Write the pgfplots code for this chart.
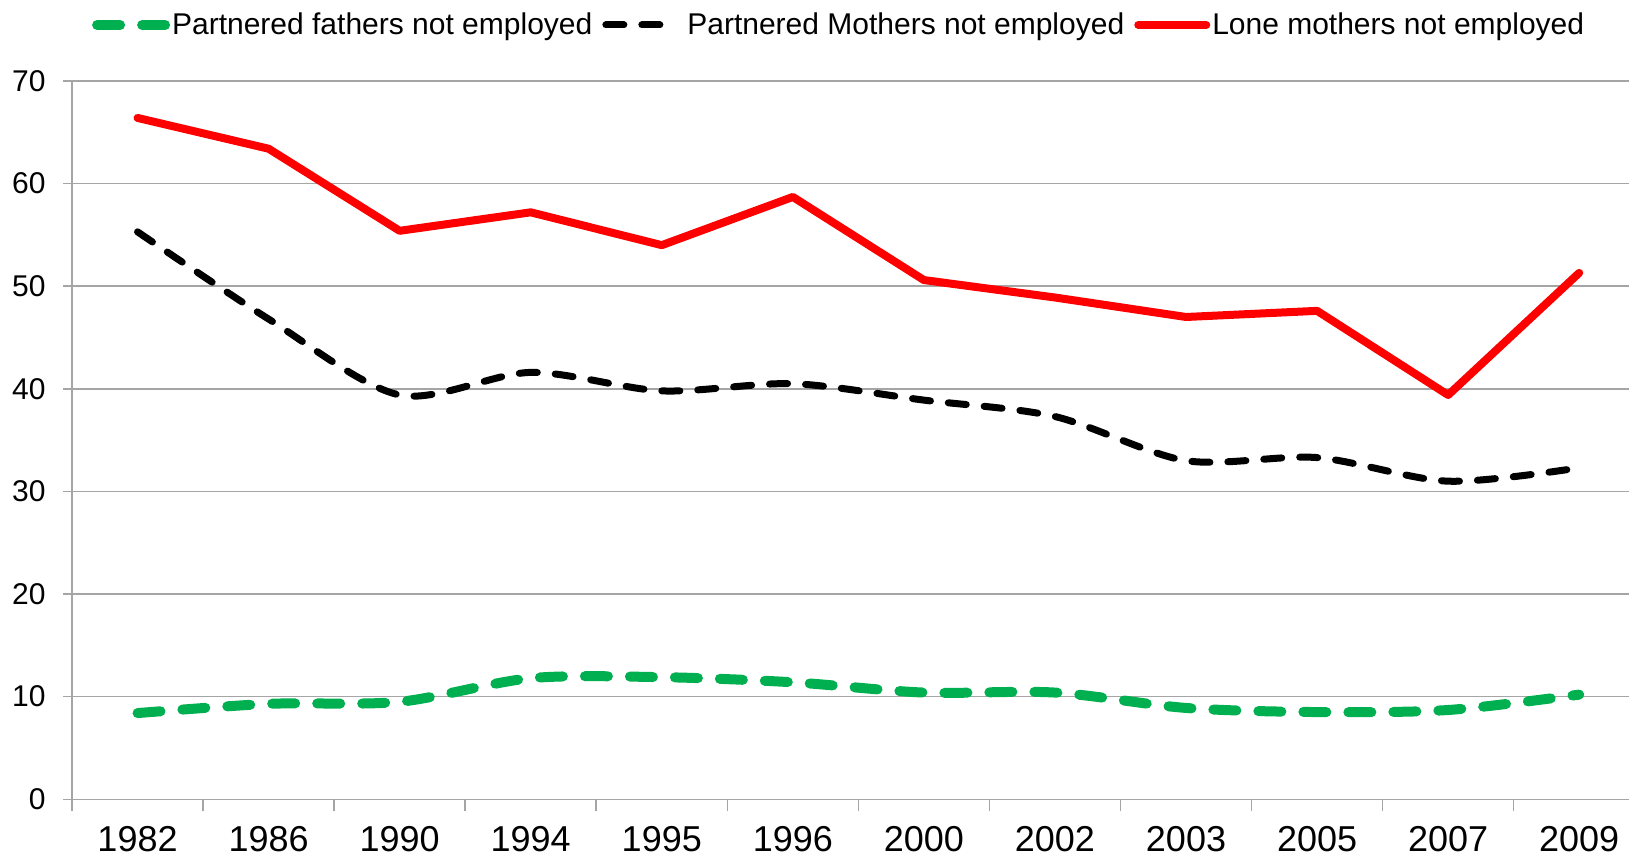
\documentclass[border=0pt]{standalone}
\usepackage{pgfplots}
\pgfplotsset{compat=1.18}
\usepackage{fontspec}
\setmainfont{Liberation Sans}
\definecolor{xlgreen}{RGB}{0,176,80}
\definecolor{xlred}{RGB}{255,0,0}
\definecolor{gridgray}{RGB}{165,165,165}
\begin{document}
\begin{tikzpicture}
\begin{axis}[
  scale only axis,
  width=778.5bp, height=359.15bp,
  xmin=-0.5, xmax=11.38,
  ymin=0, ymax=70,
  ytick={0,10,...,70},
  xtick={0,...,11},
  xticklabels={1982,1986,1990,1994,1995,1996,2000,2002,2003,2005,2007,2009},
  minor xtick={-0.5,0.5,...,10.5},
  major x tick style={draw=none},
  minor tick length=6bp,
  major tick length=4.5bp,
  tick align=outside,
  axis x line*=bottom,
  axis y line*=left,
  axis line style={gridgray, line width=0.75bp, -},
  tick style={gridgray, line width=0.75bp},
  ymajorgrids,
  major grid style={gridgray, line width=0.75bp},
  /pgf/number format/assume math mode=true,
  xticklabel style={font=\fontsize{18bp}{21bp}\selectfont, anchor=north, inner sep=0pt, yshift=-9bp},
  yticklabel style={font=\fontsize{15bp}{18bp}\selectfont, anchor=east, inner sep=0pt, xshift=-8.5bp},
  clip=false,
  legend columns=-1,
  legend style={at={(0.4927,1.078)}, anchor=center, draw=none, fill=none,
    font=\fontsize{15bp}{18bp}\selectfont,
    nodes={inner sep=1bp},
    /tikz/every even column/.append style={column sep=4bp}},
  legend image code/.code={\draw[#1] (0bp,0bp) -- (34bp,0bp);},
]
\addplot[xlgreen, line width=5bp, line cap=round, dash pattern=on 11.5bp off 11bp, smooth, tension=0.5]
  coordinates {(0,8.4) (1,9.3) (2,9.5) (3,11.8) (4,11.9) (5,11.4) (6,10.4) (7,10.4) (8,8.9) (9,8.5) (10,8.7) (11,10.2)};
\addlegendentry{Partnered fathers not employed}
\addplot[black, line width=3.5bp, line cap=round, dash pattern=on 9bp off 9bp, smooth, tension=0.5]
  coordinates {(0,55.3) (1,46.8) (2,39.4) (3,41.6) (4,39.8) (5,40.5) (6,38.9) (7,37.3) (8,33.0) (9,33.3) (10,31.0) (11,32.3)};
\addlegendentry{\hspace{4bp}Partnered Mothers not employed}
\addplot[xlred, line width=4bp, line cap=round, line join=round]
  coordinates {(0,66.4) (1,63.4) (2,55.4) (3,57.2) (4,54.0) (5,58.7) (6,50.6) (7,48.9) (8,47.0) (9,47.6) (10,39.4) (11,51.3)};
\addlegendentry{Lone mothers not employed}
\coordinate (bl) at (rel axis cs:0,0);
\coordinate (tr) at (rel axis cs:1,1);
\end{axis}
\pgfresetboundingbox
\useasboundingbox ([xshift=-36bp,yshift=-29.35bp]bl) rectangle ([yshift=40.5bp]tr);
\end{tikzpicture}
\end{document}
